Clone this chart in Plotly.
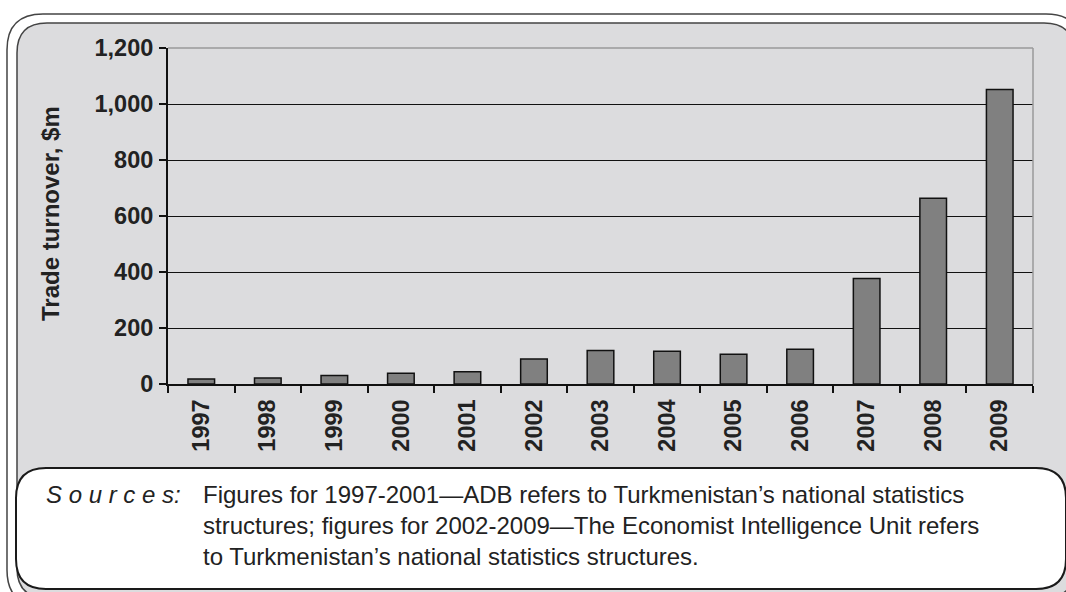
import plotly.graph_objects as go

years = ["1997", "1998", "1999", "2000", "2001", "2002", "2003",
         "2004", "2005", "2006", "2007", "2008", "2009"]
turnover = [18, 21, 30, 38, 44, 89, 120, 117, 106, 124, 377, 663, 1052]
y_ticks = [0, 200, 400, 600, 800, 1000, 1200]
y_ticktext = ["0", "200", "400", "600", "800", "1,000", "1,200"]
y_title = "Trade turnover, $m"
source_label = "S o u r c e s:"
source_lines = [
    "Figures for 1997-2001\u2014ADB refers to Turkmenistan\u2019s national statistics",
    "structures; figures for 2002-2009\u2014The Economist Intelligence Unit refers",
    "to Turkmenistan\u2019s national statistics structures.",
]

W, H = 1066, 592
ML, MR, MT, MB = 168, 33, 48, 208
PW, PH = W - ML - MR, H - MT - MB


def px(x):
    return (x - ML) / PW


def py(y):
    return (H - MB - y) / PH


def rr(x0, y0, x1, y1, r):
    pts = [
        ("M", [(x0 + r, y0)]),
        ("L", [(x1 - r, y0)]),
        ("Q", [(x1, y0), (x1, y0 + r)]),
        ("L", [(x1, y1 - r)]),
        ("Q", [(x1, y1), (x1 - r, y1)]),
        ("L", [(x0 + r, y1)]),
        ("Q", [(x0, y1), (x0, y1 - r)]),
        ("L", [(x0, y0 + r)]),
        ("Q", [(x0, y0), (x0 + r, y0)]),
    ]
    s = ""
    for cmd, ps in pts:
        s += cmd + " " + " ".join(f"{px(a):.5f},{py(b):.5f}" for a, b in ps) + " "
    return s + "Z"


FONT = "Liberation Sans, Arial, sans-serif"

fig = go.Figure()
fig.add_trace(go.Bar(
    x=years, y=turnover, width=0.4,
    marker=dict(color="#808080", line=dict(color="#111111", width=1.5)),
    hoverinfo="x+y",
))

shapes = [
    # outer frame
    dict(type="path", xref="paper", yref="paper", layer="below",
         path=rr(7, 14, 1082, 606, 36), line=dict(color="#444444", width=1.5),
         fillcolor="rgba(0,0,0,0)"),
    # inner gray panel
    dict(type="path", xref="paper", yref="paper", layer="below",
         path=rr(17, 23, 1074, 598, 30), line=dict(color="#444444", width=1.5),
         fillcolor="#dcdcde"),
    # white source box
    dict(type="path", xref="paper", yref="paper", layer="below",
         path=rr(16, 468, 1066, 589, 30), line=dict(color="#1a1a1a", width=2),
         fillcolor="#ffffff"),
    # gray top and right plot border
    dict(type="line", xref="paper", yref="paper", layer="above",
         x0=0, x1=1, y0=1, y1=1, line=dict(color="#9a9a9a", width=1.5)),
    dict(type="line", xref="paper", yref="paper", layer="above",
         x0=1, x1=1, y0=0, y1=1, line=dict(color="#9a9a9a", width=1.5)),
]

annotations = [
    dict(text=f"<b>{y_title}</b>", xref="paper", yref="paper",
         x=px(50), y=py(214), textangle=-90, showarrow=False,
         xanchor="center", yanchor="middle",
         font=dict(family=FONT, size=24, color="#222222")),
    dict(text=f"<i>{source_label}</i>", xref="paper", yref="paper",
         x=px(44), y=py(494), showarrow=False, xanchor="left", yanchor="middle",
         font=dict(family=FONT, size=24, color="#222222")),
]
for i, line in enumerate(source_lines):
    annotations.append(dict(
        text=line, xref="paper", yref="paper", x=px(201), y=py(494 + 31 * i),
        showarrow=False, xanchor="left", yanchor="middle",
        font=dict(family=FONT, size=24, color="#222222")))

fig.update_layout(
    width=W, height=H,
    margin=dict(l=ML, r=MR, t=MT, b=MB, pad=0),
    paper_bgcolor="#ffffff", plot_bgcolor="#ffffff",
    showlegend=False,
    shapes=shapes, annotations=annotations,
    font=dict(family=FONT, color="#222222"),
)
fig.update_xaxes(
    type="category", tickangle=-90, tickson="boundaries",
    ticks="outside", ticklen=7, tickwidth=2, tickcolor="#111111",
    showline=True, linecolor="#111111", linewidth=2,
    showgrid=False, ticklabelstandoff=4,
    tickfont=dict(family=FONT, size=23.5, color="#222222", weight="bold"),
)
fig.update_yaxes(
    range=[0, 1200], tickvals=y_ticks, ticktext=y_ticktext,
    ticks="outside", ticklen=7, tickwidth=2, tickcolor="#111111",
    showline=True, linecolor="#111111", linewidth=2,
    showgrid=True, gridcolor="#111111", gridwidth=1, zeroline=False,
    ticklabelstandoff=1,
    tickfont=dict(family=FONT, size=23.5, color="#222222", weight="bold"),
)

fig.write_html("out.html")
